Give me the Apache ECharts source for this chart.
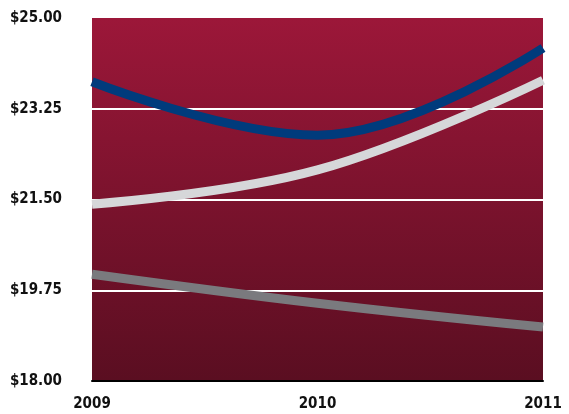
<!DOCTYPE html>
<html>
<head>
<meta charset="utf-8">
<script src="https://cdn.jsdelivr.net/npm/echarts@6/dist/echarts.min.js"></script>
<style>
html, body { margin: 0; padding: 0; background: #fff; }
#js-line { width: 569px; height: 414px; }
</style>
</head>
<body>
<div id="js-line"></div>
<script>
var years = ['2009', '2010', '2011'];
var blueValues = [23.77, 22.74, 24.42];
var lightValues = [21.41, 22.07, 23.80];
var greyValues = [20.06, 19.50, 19.04];

var lineChart = echarts.init(document.getElementById('js-line'));
var labelFont = {
    color: '#111',
    fontFamily: '"DejaVu Sans Condensed", sans-serif',
    fontWeight: 'bold',
    fontSize: 15
};
var lineOption = {
    animation: false,
    grid: {
        left: 92,
        right: 26,
        top: 18,
        bottom: 33,
        show: true,
        borderWidth: 0,
        backgroundColor: new echarts.graphic.LinearGradient(0, 0, 0, 1, [
            { offset: 0, color: '#9c1739' },
            { offset: 1, color: '#5a0e21' }
        ])
    },
    xAxis: {
        type: 'category',
        data: years,
        boundaryGap: false,
        axisLine: { lineStyle: { color: '#000', width: 2 } },
        axisTick: { show: false },
        axisLabel: Object.assign({ margin: 16 }, labelFont)
    },
    yAxis: {
        type: 'value',
        min: 18,
        max: 25,
        interval: 1.75,
        axisLine: { show: false },
        axisTick: { show: false },
        axisLabel: Object.assign({
            margin: 30,
            formatter: function (v) { return '$' + v.toFixed(2); }
        }, labelFont),
        splitLine: {
            lineStyle: {
                color: ['transparent', '#fff', '#fff', '#fff', 'transparent'],
                width: 2
            }
        }
    },
    series: [{
        name: 'grey',
        type: 'line',
        data: greyValues,
        smooth: 0.4,
        symbol: 'none',
        lineStyle: { color: '#7a7a7e', width: 9 }
    }, {
        name: 'light',
        type: 'line',
        data: lightValues,
        smooth: 0.4,
        symbol: 'none',
        lineStyle: { color: '#d6d7d9', width: 9 }
    }, {
        name: 'blue',
        type: 'line',
        data: blueValues,
        smooth: 0.4,
        symbol: 'none',
        lineStyle: { color: '#003b7c', width: 9 }
    }]
};
lineChart.setOption(lineOption);
</script>
</body>
</html>
